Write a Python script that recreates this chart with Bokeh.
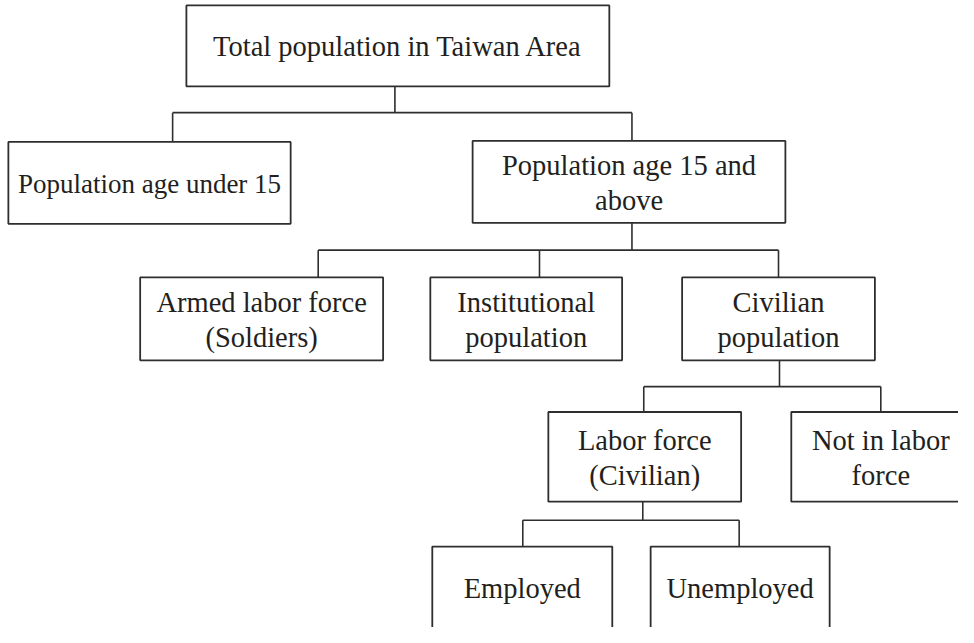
from bokeh.plotting import figure
from bokeh.models import Range1d
from bokeh.core.properties import value
from bokeh.embed import file_html
from bokeh.resources import INLINE

# ---- node data ----
labels = ["Total population in Taiwan Area",
          "Population age under 15",
          "Population age 15 and\nabove",
          "Armed labor force\n(Soldiers)",
          "Institutional\npopulation",
          "Civilian\npopulation",
          "Labor force\n(Civilian)",
          "Not in labor\nforce",
          "Employed",
          "Unemployed"]
box_left = [189, 8, 480, 142, 437, 693, 557, 804, 439, 661]
box_right = [619, 295, 798, 389, 632, 889, 753, 986, 622, 843]
box_top = [5, 145, 144, 284, 284, 284, 422, 422, 560, 560]
box_bottom = [88, 229, 228, 369, 369, 369, 514, 514, 644, 644]
font_sizes = ["28.5px", "27px", "28.5px", "28.5px", "28.5px", "28.5px", "28.5px", "28.5px", "28.5px", "28.5px"]

# ---- connector groups: (parent stem x, parent bottom, bus y, child drop xs, child tops) ----
stem_x = [401, 642, 792, 653]
stem_top = [88, 228, 369, 514]
bus_y = [115, 256, 396, 533]
drop_x = [[175, 642], [323, 548, 791], [654, 895], [531, 751]]
drop_bottom = [[145, 144], [284, 284, 284], [422, 422], [560, 560]]

W, H = 958, 627
p = figure(width=W, height=H, output_backend="svg", toolbar_location=None,
           x_range=Range1d(0, 974), y_range=Range1d(643, 0),
           min_border=0)
p.axis.visible = False
p.grid.visible = False
p.outline_line_color = None
p.background_fill_color = "white"
p.border_fill_color = "white"

LINE = "#2e2e2e"
TXT = "#231f20"

# connectors
xs, ys = [], []
for sx, st, by, dxs, dbs in zip(stem_x, stem_top, bus_y, drop_x, drop_bottom):
    xs.append([sx, sx]); ys.append([st, by])
    xs.append([min(dxs), max(dxs)]); ys.append([by, by])
    for dx, db in zip(dxs, dbs):
        xs.append([dx, dx]); ys.append([by, db])
p.multi_line(xs, ys, line_color=LINE, line_width=1.6)

# boxes
p.quad(left=box_left, right=box_right, top=box_top, bottom=box_bottom,
       fill_color="white", line_color=LINE, line_width=1.8)

# texts
tx, ty, tt, tf = [], [], [], []
for lab, l, r, t, b, fs in zip(labels, box_left, box_right, box_top, box_bottom, font_sizes):
    cx = (l + r) / 2
    cy = (t + b) / 2
    lines = lab.split("\n")
    offs = [1] if len(lines) == 1 else [-17, 19]
    for ln, off in zip(lines, offs):
        tx.append(cx); ty.append(cy + off); tt.append(ln); tf.append(fs)

p.text(x=tx, y=ty, text=tt, text_font=value("'Liberation Serif', 'Times New Roman', serif"),
       text_font_size=tf, text_align="center", text_baseline="alphabetic",
       text_color=TXT)

open("out.html", "w").write(file_html(p, INLINE))
